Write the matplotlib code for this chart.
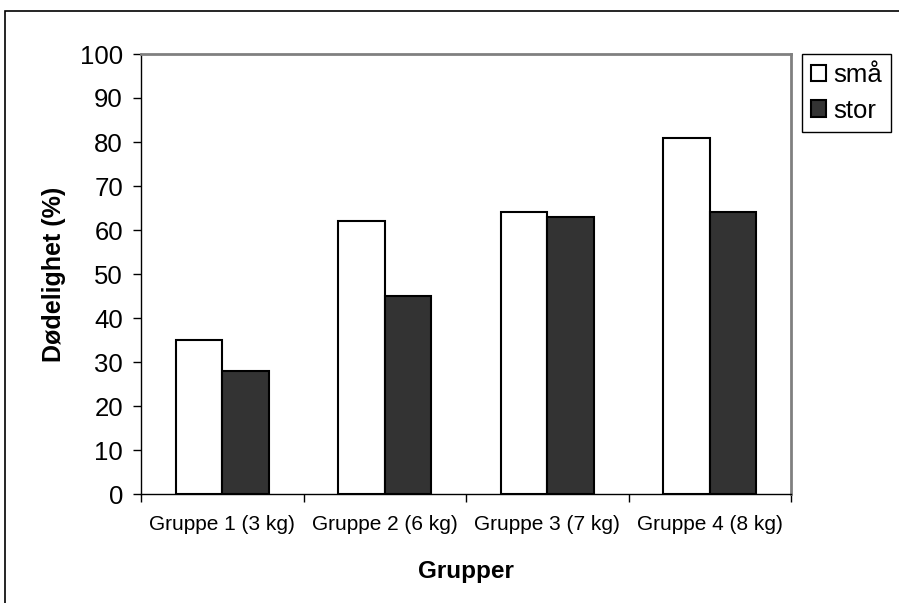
import matplotlib
matplotlib.use("Agg")
import matplotlib.pyplot as plt
import matplotlib.patches as patches
import numpy as np

plt.rcParams['font.family'] = ['Liberation Sans', 'DejaVu Sans']

categories = ['Gruppe 1 (3 kg)', 'Gruppe 2 (6 kg)', 'Gruppe 3 (7 kg)', 'Gruppe 4 (8 kg)']
sma = [35, 62, 64, 81]
stor = [28, 45, 63, 64]
yticks = [0, 10, 20, 30, 40, 50, 60, 70, 80, 90, 100]

W, H = 899, 603
fig = plt.figure(figsize=(W / 100, H / 100), dpi=100)

# outer chart border (runs off the right and bottom edges)
border = patches.Rectangle((5 / W, -0.1), 1.2, 1.1 - 11 / H, transform=fig.transFigure,
                           fill=False, edgecolor='black', linewidth=1.2)
fig.patches.append(border)

ax = fig.add_axes([141 / W, (H - 494) / H, 650 / W, 440 / H])

x = np.arange(len(categories))
w = 0.2857
ax.bar(x - w / 2, sma, w, color='white', edgecolor='black', linewidth=1.5, label='små')
ax.bar(x + w / 2, stor, w, color='#333333', edgecolor='black', linewidth=1.5, label='stor')

ax.set_xlim(-0.5, len(categories) - 0.5)
ax.set_ylim(0, 100)
ax.set_yticks(yticks)
ax.tick_params(axis='y', direction='out', length=6, width=1, labelsize=18.5, pad=7)

ax.set_xticks(np.arange(len(categories) + 1) - 0.5)
ax.set_xticklabels([])
ax.set_xticks(x, minor=True)
ax.set_xticklabels(categories, minor=True, fontsize=15)
ax.tick_params(axis='x', which='major', direction='out', length=6, width=1)
ax.tick_params(axis='x', which='minor', length=0, pad=15)

for s in ['top', 'right']:
    ax.spines[s].set_color('#808080')
    ax.spines[s].set_linewidth(2)
for s in ['left', 'bottom']:
    ax.spines[s].set_color('black')
    ax.spines[s].set_linewidth(1)

ax.set_ylabel('Dødelighet (%)', fontsize=18, fontweight='bold', labelpad=10)
ax.set_xlabel('Grupper', fontsize=17.5, fontweight='bold', labelpad=19)

leg = ax.legend(loc='upper left', bbox_to_anchor=(802 / W, 1 - 54 / H), bbox_transform=fig.transFigure,
                fontsize=18.5, frameon=True, fancybox=False, edgecolor='black', framealpha=1,
                handlelength=0.6, handleheight=0.6, handletextpad=0.25, borderpad=0.35,
                labelspacing=0.45, borderaxespad=0)
leg.get_frame().set_linewidth(1)

fig.savefig('out.png', dpi=100)
